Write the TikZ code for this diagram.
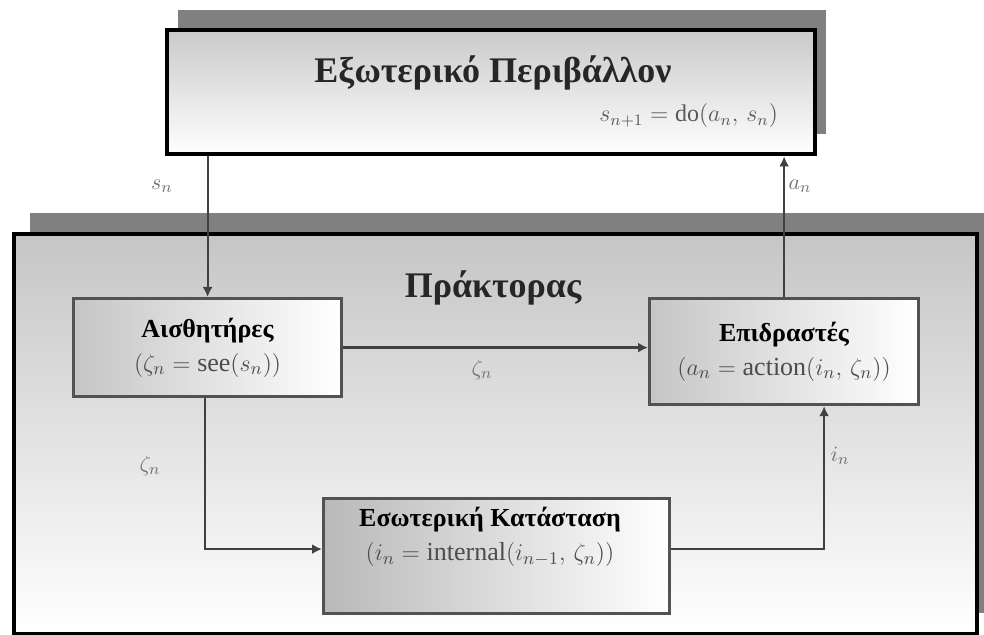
\documentclass[tikz,border=0pt]{standalone}
\usepackage{fontspec}
\setmainfont{Liberation Serif}
\usetikzlibrary{arrows.meta}
\begin{document}
\begin{tikzpicture}[x=0.5pt,y=-0.5pt,
  shadowbox/.style={fill=black!50, draw=none},
  outerbox/.style={draw=black, line width=2.2pt, inner sep=0pt, anchor=north west,
    top color=gray!42, bottom color=white},
  innerbox/.style={draw=black!68, line width=1.6pt, inner sep=0pt, anchor=north west,
    left color=gray!45, right color=white, align=center, font=\fontsize{13}{16}\selectfont},
  boxtext/.style={align=center, font=\fontsize{13}{16}\selectfont},
  heading/.style={font=\bfseries\fontsize{18}{20}\selectfont, text=black!85},
  formula/.style={font=\fontsize{12}{14}\selectfont, text=black!65},
  lbl/.style={font=\fontsize{11}{12}\selectfont, text=black!55},
  tip/.style={-{Latex[length=5pt,width=5pt]}, draw=black!75, line width=1.1pt}
]
\useasboundingbox (0,0) rectangle (984,635);
\fill[white] (0,0) rectangle (984,635);

% environment panel with its raised shadow
\fill[shadowbox] (178,10) rectangle (826,134);
\node[outerbox, minimum width=324pt, minimum height=62pt] (env) at (165,28) {};
\node[heading] (envtitle) at (493,73) {Εξωτερικό Περιβάλλον};
\node[formula, anchor=east] (envf) at (785,116) {$s_{n+1} = \mathrm{do}(a_n,\, s_n)$};

% agent panel with its raised shadow
\fill[shadowbox] (30,213) rectangle (984,613);
\node[outerbox, minimum width=481.5pt, minimum height=200pt, top color=gray!45] (agent) at (12,232) {};
\node[heading] (agenttitle) at (493,288) {Πράκτορας};

% components of the agent
\node[innerbox, minimum width=134pt, minimum height=49pt] (sensors) at (72,297)
  {\textbf{Αισθητήρες}\\[1pt]{\color{black!70}$(\zeta_n = \mathrm{see}(s_n))$}};
\node[innerbox, minimum width=134.5pt, minimum height=53pt] (effectors) at (648,297)
  {\textbf{Επιδραστές}\\[1pt]{\color{black!70}$(a_n = \mathrm{action}(i_n,\, \zeta_n))$}};
\node[innerbox, minimum width=173pt, minimum height=57.5pt, left color=gray!55] (internal) at (322,497) {};
\node[boxtext] (internaltext) at (490,537)
  {\textbf{Εσωτερική Κατάσταση}\\[1pt]{\color{black!70}$(i_n = \mathrm{internal}(i_{n-1},\, \zeta_n))$}};

% signal flow
\draw[tip] (env.south -| sensors.north) -- (sensors.north);
\draw[tip] (effectors.north) -- (effectors.north |- env.south);
\draw[tip] (sensors.east) -- (effectors.west |- sensors.east);
\draw[tip] ([xshift=-1.5pt]sensors.south) |- ([yshift=3.5pt]internal.west);
\draw[tip] ([yshift=3.5pt]internal.east) -| ([xshift=20pt]effectors.south);

% flow labels
\node[lbl] (ls) at (162,186) {$s_n$};
\node[lbl] (la) at (800,186) {$a_n$};
\node[lbl] (lz1) at (482,370) {$\zeta_n$};
\node[lbl] (lz2) at (150,466) {$\zeta_n$};
\node[lbl] (li) at (840,456) {$i_n$};
\end{tikzpicture}
\end{document}
